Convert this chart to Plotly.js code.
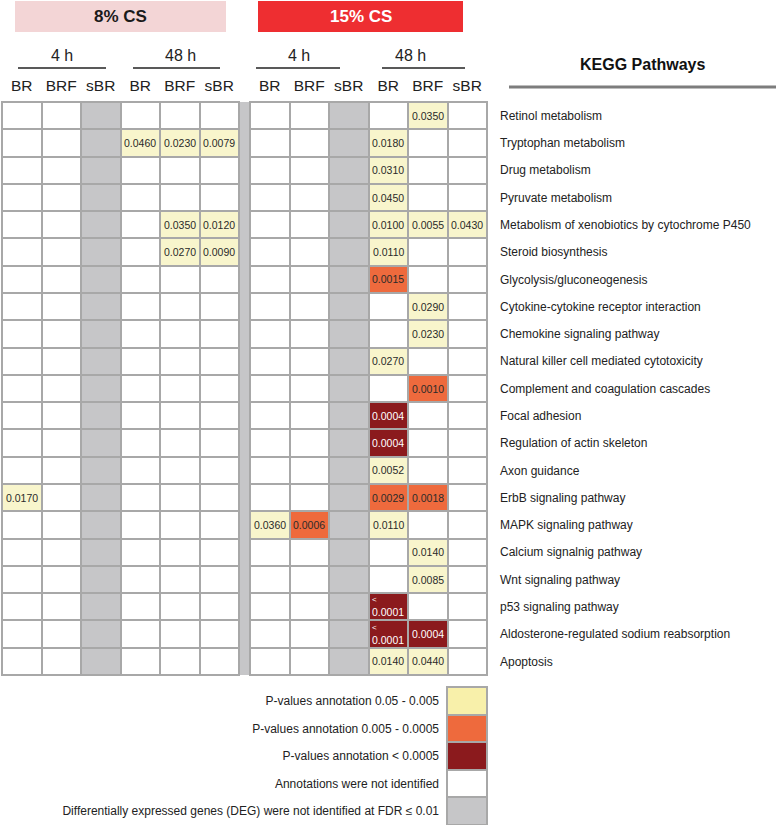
<!DOCTYPE html>
<html>
<head>
<meta charset="utf-8">
<script src="https://cdn.plot.ly/plotly-3.0.1.min.js"></script>
<style>
    body { margin: 0; background: #fff; }
    #chart { width: 778px; height: 825px; }
</style>
</head>
<body>
<div id="chart"></div>
<script>
// KEGG pathways (rows, top to bottom)
const pathways = [
    'Retinol metabolism',
    'Tryptophan metabolism',
    'Drug metabolism',
    'Pyruvate metabolism',
    'Metabolism of xenobiotics by cytochrome P450',
    'Steroid biosynthesis',
    'Glycolysis/gluconeogenesis',
    'Cytokine-cytokine receptor interaction',
    'Chemokine signaling pathway',
    'Natural killer cell mediated cytotoxicity',
    'Complement and coagulation cascades',
    'Focal adhesion',
    'Regulation of actin skeleton',
    'Axon guidance',
    'ErbB signaling pathway',
    'MAPK signaling pathway',
    'Calcium signalnig pathway',
    'Wnt signaling pathway',
    'p53 signaling pathway',
    'Aldosterone-regulated sodium reabsorption',
    'Apoptosis'
];

const columnNames = ['BR', 'BRF', 'sBR', 'BR', 'BRF', 'sBR'];
const timeLabels = ['4 h', '48 h'];
const doseLabels = ['8% CS', '15% CS'];

// p-values per column (null = annotation not identified)
const n = null;
const cs8_4h_BR    = [n, n, n, n, n, n, n, n, n, n, n, n, n, n, '0.0170', n, n, n, n, n, n];
const cs8_4h_BRF   = [n, n, n, n, n, n, n, n, n, n, n, n, n, n, n, n, n, n, n, n, n];
const cs8_4h_sBR   = [n, n, n, n, n, n, n, n, n, n, n, n, n, n, n, n, n, n, n, n, n];
const cs8_48h_BR   = [n, '0.0460', n, n, n, n, n, n, n, n, n, n, n, n, n, n, n, n, n, n, n];
const cs8_48h_BRF  = [n, '0.0230', n, n, '0.0350', '0.0270', n, n, n, n, n, n, n, n, n, n, n, n, n, n, n];
const cs8_48h_sBR  = [n, '0.0079', n, n, '0.0120', '0.0090', n, n, n, n, n, n, n, n, n, n, n, n, n, n, n];

const cs15_4h_BR   = [n, n, n, n, n, n, n, n, n, n, n, n, n, n, n, '0.0360', n, n, n, n, n];
const cs15_4h_BRF  = [n, n, n, n, n, n, n, n, n, n, n, n, n, n, n, '0.0006', n, n, n, n, n];
const cs15_4h_sBR  = [n, n, n, n, n, n, n, n, n, n, n, n, n, n, n, n, n, n, n, n, n];
const cs15_48h_BR  = [n, '0.0180', '0.0310', '0.0450', '0.0100', '0.0110', '0.0015', n, n, '0.0270', n,
                      '0.0004', '0.0004', '0.0052', '0.0029', '0.0110', n, n, '<0.0001', '<0.0001', '0.0140'];
const cs15_48h_BRF = ['0.0350', n, n, n, '0.0055', n, n, '0.0290', '0.0230', n, '0.0010',
                      n, n, n, '0.0018', n, '0.0140', '0.0085', n, '0.0004', '0.0440'];
const cs15_48h_sBR = [n, n, n, n, '0.0430', n, n, n, n, n, n, n, n, n, n, n, n, n, n, n, n];

// columns where DEG were not identified at FDR <= 0.01
const cs8_noDEG  = [false, false, true, false, false, false];
const cs15_noDEG = [false, false, true, false, false, false];

const cs8Columns  = [cs8_4h_BR, cs8_4h_BRF, cs8_4h_sBR, cs8_48h_BR, cs8_48h_BRF, cs8_48h_sBR];
const cs15Columns = [cs15_4h_BR, cs15_4h_BRF, cs15_4h_sBR, cs15_48h_BR, cs15_48h_BRF, cs15_48h_sBR];

// legend
const legendLabels = [
    'P-values annotation 0.05 - 0.005',
    'P-values annotation 0.005 - 0.0005',
    'P-values annotation &lt; 0.0005',
    'Annotations were not identified',
    'Differentially expressed genes (DEG) were not identified at FDR ≤ 0.01'
];
const legendCategory = [1, 2, 3, 0, 4];

const FONT = 'Liberation Sans, Arial, sans-serif';
const W = 778, H = 825;
const px = x => x / W;
const py = y => 1 - y / H;

function category(value, noDeg) {
    if (noDeg) return 4;
    if (value === null) return 0;
    const p = parseFloat(value.replace('<', ''));
    if (p < 0.0005) return 3;
    if (p < 0.005) return 2;
    return 1;
}

function buildZ(columns, noDeg) {
    return pathways.map((_, r) => columns.map((col, c) => category(col[r], noDeg[c])));
}

function makeScale(yellow) {
    return [
        [0, '#ffffff'], [0.2, '#ffffff'],
        [0.2, yellow], [0.4, yellow],
        [0.4, '#ee6a3d'], [0.6, '#ee6a3d'],
        [0.6, '#8b1a1d'], [0.8, '#8b1a1d'],
        [0.8, '#c6c6c8'], [1, '#c6c6c8']
    ];
}

const colIdx = [0, 1, 2, 3, 4, 5];

function gridTrace(columns, noDeg, xa) {
    return {
        type: 'heatmap',
        x: colIdx,
        y: pathways,
        z: buildZ(columns, noDeg),
        xaxis: xa,
        yaxis: 'y',
        zmin: -0.5,
        zmax: 4.5,
        colorscale: makeScale('#f8f5cc'),
        showscale: false,
        xgap: 2,
        ygap: 2,
        hoverinfo: 'skip'
    };
}

const legendTrace = {
    type: 'heatmap',
    x: [0],
    y: legendLabels,
    z: legendCategory.map(v => [v]),
    xaxis: 'x3',
    yaxis: 'y3',
    zmin: -0.5,
    zmax: 4.5,
    colorscale: makeScale('#f8f0aa'),
    showscale: false,
    ygap: 2,
    xgap: 2,
    hoverinfo: 'skip'
};

// p-value text in cells
const annotations = [];
function cellTexts(columns, noDeg, xref) {
    columns.forEach((col, c) => {
        col.forEach((v, r) => {
            if (v === null) return;
            const cat = category(v, noDeg[c]);
            let text = v;
            if (v.startsWith('<')) {
                text = '<span style="font-size:8px">&lt;</span><br>' + v.slice(1);
            }
            annotations.push({
                x: c, y: pathways[r], xref: xref, yref: 'y',
                xanchor: 'center', yanchor: 'middle',
                text: text, showarrow: false, align: 'left',
                font: { family: FONT, size: 10.5, color: cat === 3 ? '#ffffff' : '#2a2a2a' }
            });
        });
    });
}
cellTexts(cs8Columns, cs8_noDEG, 'x');
cellTexts(cs15Columns, cs15_noDEG, 'x2');

// header labels
function paperText(x, y, text, size, color) {
    annotations.push({
        x: px(x), y: py(y), xref: 'paper', yref: 'paper',
        xanchor: 'center', yanchor: 'middle',
        text: text, showarrow: false,
        font: { family: FONT, size: size, color: color }
    });
}
paperText(120.5, 16.5, '<b>' + doseLabels[0] + '</b>', 17, '#1a1a1a');
paperText(360.5, 16.5, '<b>' + doseLabels[1] + '</b>', 17, '#ffffff');
paperText(62, 56, timeLabels[0], 16, '#222');
paperText(180, 56, timeLabels[1], 16, '#222');
paperText(299, 56, timeLabels[0], 16, '#222');
paperText(411, 56, timeLabels[1], 16, '#222');
paperText(642, 65, '<b>KEGG Pathways</b>', 16, '#111');

const shapes = [
    { type: 'rect', xref: 'paper', yref: 'paper', x0: px(15), x1: px(226), y0: py(1), y1: py(32),
      fillcolor: '#f3d5d6', line: { width: 0 } },
    { type: 'rect', xref: 'paper', yref: 'paper', x0: px(258), x1: px(463), y0: py(1), y1: py(32),
      fillcolor: '#ee2e31', line: { width: 0 } },
    { type: 'line', xref: 'paper', yref: 'paper', x0: px(18), x1: px(106), y0: py(68), y1: py(68),
      line: { color: '#222', width: 1.5 } },
    { type: 'line', xref: 'paper', yref: 'paper', x0: px(133), x1: px(220), y0: py(68), y1: py(68),
      line: { color: '#222', width: 1.5 } },
    { type: 'line', xref: 'paper', yref: 'paper', x0: px(256), x1: px(340), y0: py(68), y1: py(68),
      line: { color: '#222', width: 1.5 } },
    { type: 'line', xref: 'paper', yref: 'paper', x0: px(382), x1: px(465), y0: py(68), y1: py(68),
      line: { color: '#222', width: 1.5 } },
    { type: 'line', xref: 'paper', yref: 'paper', x0: px(509), x1: px(776), y0: py(87), y1: py(87),
      line: { color: '#7d7d7d', width: 3 } },
    // separator between the two CS groups
    { type: 'rect', xref: 'paper', yref: 'paper', x0: px(240), x1: px(249), y0: py(102), y1: py(675),
      fillcolor: '#c6c6c8', line: { width: 0 } },
    // grid borders
    { type: 'rect', xref: 'x domain', yref: 'y domain', x0: 0, x1: 1, y0: 0, y1: 1,
      line: { color: '#a8a8a8', width: 2 } },
    { type: 'rect', xref: 'x2 domain', yref: 'y domain', x0: 0, x1: 1, y0: 0, y1: 1,
      line: { color: '#a8a8a8', width: 2 } },
    { type: 'rect', xref: 'x3 domain', yref: 'y3 domain', x0: 0, x1: 1, y0: 0, y1: 1,
      line: { color: '#a8a8a8', width: 2 } }
];

const colAxis = domain => ({
    domain: domain,
    anchor: 'y',
    side: 'top',
    range: [-0.5, 5.5],
    tickvals: colIdx,
    ticktext: columnNames,
    ticks: '',
    ticklabelstandoff: 7,
    tickfont: { family: FONT, size: 15.5, color: '#222' },
    showgrid: false,
    zeroline: false,
    fixedrange: true
});

const layout = {
    width: W,
    height: H,
    margin: { l: 0, r: 0, t: 0, b: 0 },
    paper_bgcolor: '#ffffff',
    plot_bgcolor: '#a8a8a8',
    showlegend: false,
    font: { family: FONT },
    xaxis: colAxis([px(2), px(239)]),
    xaxis2: colAxis([px(250), px(487)]),
    yaxis: {
        domain: [py(675), py(102)],
        anchor: 'x2',
        side: 'right',
        type: 'category',
        autorange: 'reversed',
        ticks: '',
        ticklabelstandoff: 12,
        tickfont: { family: FONT, size: 12, color: '#222' },
        showgrid: false,
        zeroline: false,
        fixedrange: true
    },
    xaxis3: {
        domain: [px(447), px(487)],
        anchor: 'y3',
        showticklabels: false,
        ticks: '',
        showgrid: false,
        zeroline: false,
        fixedrange: true
    },
    yaxis3: {
        domain: [py(825), py(687)],
        anchor: 'x3',
        side: 'left',
        type: 'category',
        autorange: 'reversed',
        ticks: '',
        ticklabelstandoff: 7,
        tickfont: { family: FONT, size: 12, color: '#222' },
        showgrid: false,
        zeroline: false,
        fixedrange: true
    },
    shapes: shapes,
    annotations: annotations
};

const config = { displayModeBar: false, staticPlot: true };

Plotly.newPlot('chart', [
    gridTrace(cs8Columns, cs8_noDEG, 'x'),
    gridTrace(cs15Columns, cs15_noDEG, 'x2'),
    legendTrace
], layout, config);
</script>
</body>
</html>
